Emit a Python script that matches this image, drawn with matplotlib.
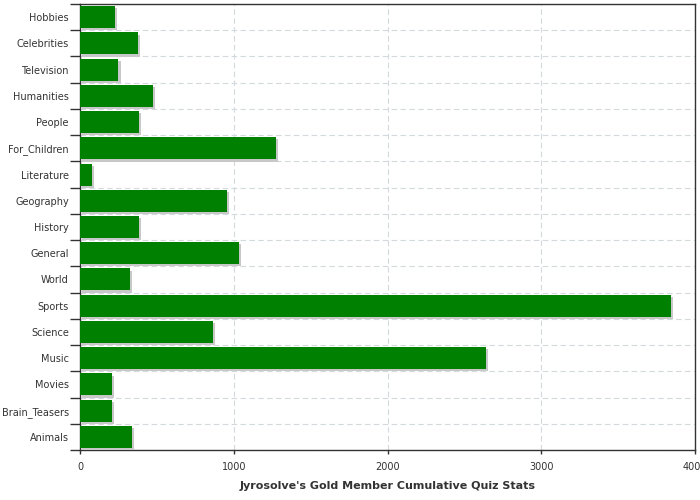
import numpy as np
import matplotlib
matplotlib.use("Agg")
import matplotlib.pyplot as plt
import matplotlib.patheffects as pe
from matplotlib.ticker import FixedLocator

# categories, top to bottom as shown
categories = ["Hobbies", "Celebrities", "Television", "Humanities", "People",
              "For_Children", "Literature", "Geography", "History", "General",
              "World", "Sports", "Science", "Music", "Movies", "Brain_Teasers",
              "Animals"]
values = [225, 375, 250, 472, 381, 1274, 75, 954, 381, 1033, 322, 3841,
          863, 2642, 205, 205, 335]
x_ticks = [0, 1000, 2000, 3000, 4000]
x_label = "Jyrosolve's Gold Member Cumulative Quiz Stats"

plt.rcParams["font.family"] = ["DejaVu Sans"]
text_col = "#333333"

fig = plt.figure(figsize=(7, 5), dpi=100)
ax = fig.add_axes([80 / 700, 50 / 500, 615 / 700, 446 / 500])

y = np.arange(len(categories))
bars = ax.barh(y, values, height=0.84, color="#008000", zorder=3)
for b in bars:
    b.set_path_effects([
        pe.SimplePatchShadow(offset=(1.6, -1.6), shadow_rgbFace="#c8c8c8", alpha=1.0),
        pe.Normal(),
    ])

ax.set_ylim(len(categories) - 0.5, -0.5)
ax.set_xlim(0, 4000)

ax.set_yticks(y)
ax.set_yticklabels(categories)
ax.yaxis.set_minor_locator(FixedLocator(np.arange(-0.5, len(categories)) + 0))
ax.tick_params(axis="y", which="major", length=0, pad=8, labelsize=7, labelcolor=text_col)
ax.tick_params(axis="y", which="minor", length=7.5, width=1, color=text_col, direction="out")

ax.set_xticks(x_ticks)
ax.tick_params(axis="x", which="major", length=3, width=1, pad=6, labelsize=7,
               labelcolor=text_col, color=text_col)

ax.grid(True, axis="x", which="major", linestyle=(0, (5, 3)), color="#d3dade", linewidth=0.8, zorder=0)
ax.grid(True, axis="y", which="minor", linestyle=(0, (5, 3)), color="#d3dade", linewidth=0.8, zorder=0)
ax.set_axisbelow(True)

for s in ax.spines.values():
    s.set_color(text_col)
    s.set_linewidth(1)

ax.set_xlabel(x_label, fontsize=8, fontweight="bold", color=text_col, labelpad=6)

fig.savefig("out.png", dpi=100)
